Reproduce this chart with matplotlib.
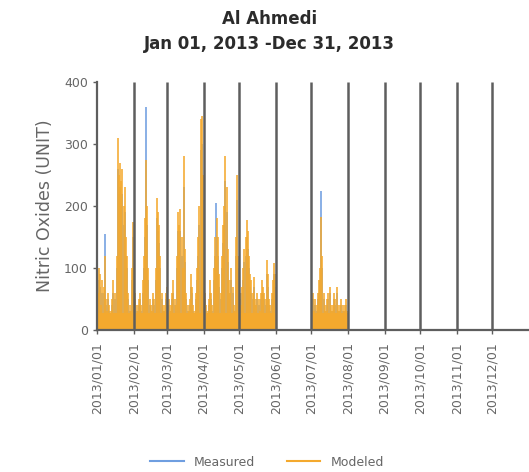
import numpy as np
import matplotlib
matplotlib.use("Agg")
import matplotlib.pyplot as plt
from matplotlib.lines import Line2D

title_line1 = "Al Ahmedi"
title_line2 = "Jan 01, 2013 -Dec 31, 2013"
y_label = "Nitric Oxides (UNIT)"
tick_labels = ["2013/01/01", "2013/02/01", "2013/03/01", "2013/04/01",
               "2013/05/01", "2013/06/01", "2013/07/01", "2013/08/01",
               "2013/09/01", "2013/10/01", "2013/11/01", "2013/12/01"]
month_days = [31, 28, 31, 30, 31, 30, 31, 31, 30, 31, 30, 31]
y_ticks = [0, 100, 200, 300, 400]

# daily peak values, Jan 01 - May 31 (151 days)
modeled_janmay = [
    60, 100, 90, 40, 80, 70, 120, 50, 30, 60, 40, 30, 50, 80, 20, 60, 120, 310, 250, 270,
    240, 260, 200, 230, 150, 120, 60, 40, 30, 100, 175,
    150, 60, 40, 30, 50, 60, 40, 80, 120, 180, 275, 200, 100, 50, 40, 30, 60, 50, 100,
    213, 190, 170, 120, 60, 40, 30, 40, 60,
    70, 50, 30, 40, 60, 80, 50, 40, 120, 190, 170, 195, 150, 100, 280, 130, 60, 40, 30, 50,
    90, 70, 40, 30, 60, 100, 150, 200, 340, 345, 250,
    150, 60, 40, 30, 50, 80, 60, 40, 100, 150, 120, 180, 150, 90, 60, 120, 170, 200, 280, 230,
    130, 80, 60, 100, 70, 40, 30, 150, 250, 120,
    60, 40, 70, 100, 130, 150, 177, 160, 120, 90, 80, 60, 85, 50, 40, 60, 50, 30, 60, 80,
    70, 60, 50, 113, 90, 50, 40, 60, 80, 108, 90]
measured_janmay = [
    50, 80, 70, 30, 60, 60, 155, 40, 25, 50, 30, 25, 40, 60, 15, 50, 100, 260, 220, 230,
    200, 220, 170, 190, 120, 100, 50, 30, 25, 80, 150,
    130, 50, 30, 25, 40, 50, 30, 60, 100, 150, 360, 170, 80, 40, 30, 25, 50, 40, 80,
    180, 160, 140, 100, 50, 30, 25, 30, 50,
    60, 40, 25, 30, 50, 60, 40, 30, 100, 160, 140, 160, 120, 80, 230, 110, 50, 30, 25, 40,
    70, 60, 30, 25, 50, 80, 120, 170, 290, 300, 210,
    120, 50, 30, 25, 40, 60, 50, 30, 80, 120, 205, 150, 120, 70, 50, 100, 140, 170, 240, 190,
    110, 60, 50, 80, 60, 30, 25, 120, 210, 100,
    50, 30, 60, 80, 110, 120, 150, 130, 100, 70, 60, 50, 70, 40, 30, 50, 40, 25, 50, 60,
    60, 50, 40, 90, 70, 40, 30, 50, 60, 90, 70]

# daily peak values, Jul 01 - Jul 31 (31 days)
modeled_jul = [40, 60, 30, 50, 40, 60, 80, 100, 182, 120, 60, 40, 30, 50, 60, 70, 40, 30,
               40, 60, 50, 70, 40, 30, 40, 50, 40, 30, 40, 50, 30]
measured_jul = [30, 50, 25, 40, 30, 50, 60, 80, 225, 100, 50, 30, 25, 40, 50, 60, 30, 25,
                30, 50, 40, 60, 30, 25, 30, 40, 30, 25, 30, 40, 25]

# typical night-time floor of the modeled series
modeled_floor = 28

blue = "#6f9ee0"
orange = "#f4a92e"
grid_c = "#5e5e5e"
text_c = "#2b2b2b"
tick_c = "#666666"

fig = plt.figure(figsize=(5.29, 4.72), dpi=100)
ax = fig.add_axes([97/529, 1-330/472, 432/529, 248/472])

month_start = np.concatenate([[0], np.cumsum(month_days)])
days_janmay = np.arange(len(modeled_janmay)) + month_start[0] + 0.5
days_jul = np.arange(len(modeled_jul)) + month_start[6] + 0.5

for d, v in [(days_janmay, measured_janmay), (days_jul, measured_jul)]:
    ax.vlines(d, 0, v, color=blue, lw=1.15, zorder=1)
for d, v in [(days_janmay, modeled_janmay), (days_jul, modeled_jul)]:
    ax.vlines(d, 0, v, color=orange, lw=1.15, zorder=2)
    ax.fill_between([d[0] - 0.5, d[-1] + 0.5], 0, modeled_floor, color=orange,
                    lw=0, zorder=2)

ax.vlines(month_start[1:12], 0, 400, color=grid_c, lw=1.8, zorder=3)

ax.set_xlim(0, month_start[12])
ax.set_ylim(0, 400)
ax.set_xticks(month_start[:12])
ax.set_xticklabels(tick_labels, rotation=90, fontsize=9, color=tick_c)
ax.set_yticks(y_ticks)
ax.set_yticklabels([str(t) for t in y_ticks], fontsize=9, color=tick_c)
ax.tick_params(axis="both", length=3, color=grid_c, width=1)
ax.tick_params(axis="x", pad=6)
for s in ["top", "right"]:
    ax.spines[s].set_visible(False)
for s in ["left", "bottom"]:
    ax.spines[s].set_color(grid_c)
    ax.spines[s].set_linewidth(1.6)
ax.set_ylabel(y_label, fontsize=12.5, color=tick_c, labelpad=7)

fig.text(0.51, 1-19/472, title_line1, ha="center", va="center", fontsize=12,
         color=text_c, fontweight="bold")
fig.text(0.51, 1-44/472, title_line2, ha="center", va="center", fontsize=12,
         color=text_c, fontweight="bold")

handles = [Line2D([], [], color=blue, lw=1.5), Line2D([], [], color=orange, lw=1.5)]
fig.legend(handles, ["Measured", "Modeled"], loc="center", bbox_to_anchor=(0.505, 1-462/472),
           ncol=2, frameon=False, fontsize=9, handlelength=2.7, columnspacing=2.5,
           labelcolor=tick_c)

fig.savefig("out.png", dpi=100)
